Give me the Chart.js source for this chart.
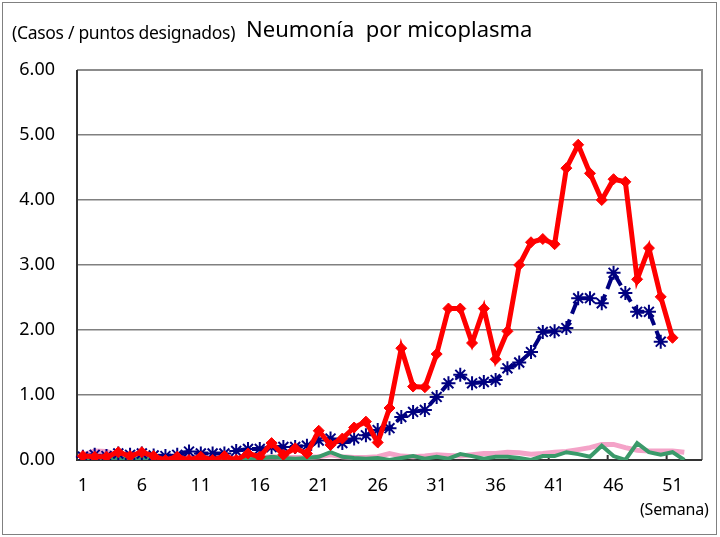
<!DOCTYPE html>
<html>
<head>
<meta charset="utf-8">
<script src="https://cdn.jsdelivr.net/npm/chart.js@4.4.1/dist/chart.umd.min.js"></script>
<style>
  body { margin: 0; background: #fff; }
  #wrap { position: relative; width: 720px; height: 537px; font-family: "Noto Sans", sans-serif; color: #000; }
  #frame { position: absolute; left: 2px; top: 2px; width: 715px; height: 533px; border: 1.5px solid #808080; box-sizing: border-box; }
  #unit { position: absolute; left: 12px; top: 20px; font-size: 17.5px; letter-spacing: -0.3px; white-space: pre; }
  #title { position: absolute; left: 246px; top: 13px; font-size: 22px; white-space: pre; }
  #week { position: absolute; left: 640px; top: 498px; font-size: 16px; letter-spacing: -0.2px; }
  canvas { position: absolute; left: 0; top: 0; }
</style>
</head>
<body>
<div id="wrap">
  <div id="frame"></div>
  <canvas id="chart" width="720" height="537"></canvas>
  <div id="unit">(Casos / puntos designados)</div>
  <div id="title">Neumonía  por micoplasma</div>
  <div id="week">(Semana)</div>
</div>
<script>
const weeks = [1, 2, 3, 4, 5, 6, 7, 8, 9, 10, 11, 12, 13, 14, 15, 16, 17, 18, 19, 20,
  21, 22, 23, 24, 25, 26, 27, 28, 29, 30, 31, 32, 33, 34, 35, 36, 37, 38, 39, 40,
  41, 42, 43, 44, 45, 46, 47, 48, 49, 50, 51, 52, 53];
const tickWeeks = [1, 6, 11, 16, 21, 26, 31, 36, 41, 46, 51];

// current season (red)
const thisYear = [0.06, 0.05, 0.05, 0.12, 0.06, 0.12, 0.06, 0.0, 0.05, 0.0,
  0.05, 0.0, 0.06, 0.0, 0.1, 0.05, 0.26, 0.08, 0.18, 0.1,
  0.45, 0.23, 0.33, 0.5, 0.59, 0.27, 0.8, 1.72, 1.13, 1.12,
  1.63, 2.33, 2.33, 1.8, 2.33, 1.55, 1.98, 3.0, 3.35, 3.4,
  3.32, 4.49, 4.85, 4.41, 4.0, 4.32, 4.28, 2.78, 3.26, 2.51, 1.88];
// previous season (navy, dashed)
const lastYear = [0.05, 0.08, 0.06, 0.1, 0.08, 0.1, 0.07, 0.06, 0.08, 0.13,
  0.1, 0.1, 0.1, 0.14, 0.17, 0.17, 0.2, 0.2, 0.2, 0.22,
  0.3, 0.33, 0.26, 0.33, 0.38, 0.46, 0.49, 0.66, 0.74, 0.77,
  0.97, 1.18, 1.31, 1.18, 1.2, 1.23, 1.41, 1.5, 1.66, 1.97,
  1.98, 2.03, 2.49, 2.49, 2.41, 2.88, 2.57, 2.28, 2.28, 1.82];
const pinkSeries = [0.08, 0.14, 0.13, 0.08, 0.06, 0.06, 0.05, 0.04, 0.04, 0.04,
  0.03, 0.03, 0.03, 0.03, 0.03, 0.04, 0.05, 0.04, 0.04, 0.04,
  0.05, 0.08, 0.05, 0.04, 0.04, 0.05, 0.1, 0.06, 0.05, 0.06,
  0.08, 0.07, 0.06, 0.08, 0.1, 0.1, 0.12, 0.11, 0.09, 0.1,
  0.12, 0.13, 0.16, 0.19, 0.24, 0.24, 0.19, 0.15, 0.14, 0.14, 0.14, 0.12];
const greenSeries = [0.0, 0.01, 0.01, 0.02, 0.02, 0.02, 0.01, 0.01, 0.01, 0.02,
  0.02, 0.02, 0.02, 0.01, 0.01, 0.02, 0.05, 0.03, 0.02, 0.03,
  0.05, 0.12, 0.05, 0.03, 0.02, 0.03, 0.0, 0.03, 0.06, 0.02,
  0.05, 0.02, 0.09, 0.06, 0.02, 0.05, 0.05, 0.03, 0.0, 0.06,
  0.06, 0.12, 0.09, 0.05, 0.22, 0.06, 0.0, 0.26, 0.12, 0.08, 0.12, 0.0];

// plot border, axes and short inside ticks, under the lines
const plotFrame = {
  id: "plotFrame",
  beforeDatasetsDraw(chart) {
    const { ctx, chartArea: a, scales: { x } } = chart;
    ctx.save();
    ctx.lineWidth = 2;
    ctx.strokeStyle = "#8c8c8c";
    ctx.beginPath();
    ctx.moveTo(a.left, a.top);
    ctx.lineTo(a.right, a.top);
    ctx.lineTo(a.right, a.bottom);
    ctx.stroke();
    ctx.strokeStyle = "#333";
    ctx.beginPath();
    ctx.moveTo(a.left, a.top);
    ctx.lineTo(a.left, a.bottom);
    ctx.lineTo(a.right, a.bottom);
    const half = (x.getPixelForValue(1) - x.getPixelForValue(0)) / 2;
    weeks.forEach((w, i) => {
      if (tickWeeks.includes(w)) {
        const px = x.getPixelForValue(i) - half;
        ctx.moveTo(px, a.bottom);
        ctx.lineTo(px, a.bottom - 5);
      }
    });
    ctx.stroke();
    ctx.restore();
  },
};

const ctx = document.getElementById("chart").getContext("2d");
new Chart(ctx, {
  type: "line",
  data: {
    labels: weeks,
    datasets: [
      {
        data: thisYear,
        borderColor: "#ff0000",
        backgroundColor: "#ff0000",
        borderWidth: 5,
        pointStyle: "rectRot",
        pointRadius: 5.5,
        pointBorderWidth: 1,
        order: 0,
      },
      {
        data: lastYear,
        borderColor: "#000080",
        backgroundColor: "#000080",
        borderWidth: 4,
        borderDash: [13, 6],
        pointStyle: "star",
        pointRadius: 7,
        pointBorderWidth: 2,
        order: 1,
      },
      {
        data: greenSeries,
        borderColor: "#3a9a6a",
        borderWidth: 4,
        pointRadius: 0,
        order: 2,
      },
      {
        data: pinkSeries,
        borderColor: "#f4a3c8",
        borderWidth: 5,
        pointRadius: 0,
        order: 3,
      },
    ],
  },
  options: {
    responsive: false,
    animation: false,
    layout: { padding: { top: 70, right: 18, left: 0, bottom: 0 } },
    plugins: { legend: { display: false }, tooltip: { enabled: false } },
    elements: { line: { tension: 0 } },
    scales: {
      x: {
        offset: true,
        afterFit: (s) => { s.height = 77; },
        grid: { display: false },
        border: { display: false },
        ticks: {
          autoSkip: false,
          maxRotation: 0,
          padding: 7,
          color: "#000",
          font: { family: "Noto Sans", size: 18 },
          callback: (v, i) => (tickWeeks.includes(weeks[i]) ? String(weeks[i]) : ""),
        },
      },
      y: {
        min: 0,
        max: 6,
        afterFit: (s) => { s.width = 77; },
        border: { display: false },
        grid: { color: "#808080", lineWidth: 1.5, drawTicks: false },
        ticks: {
          stepSize: 1,
          padding: 22,
          color: "#000",
          font: { family: "Noto Sans", size: 18 },
          callback: (v) => v.toFixed(2),
        },
      },
    },
  },
  plugins: [plotFrame],
});
</script>
</body>
</html>
